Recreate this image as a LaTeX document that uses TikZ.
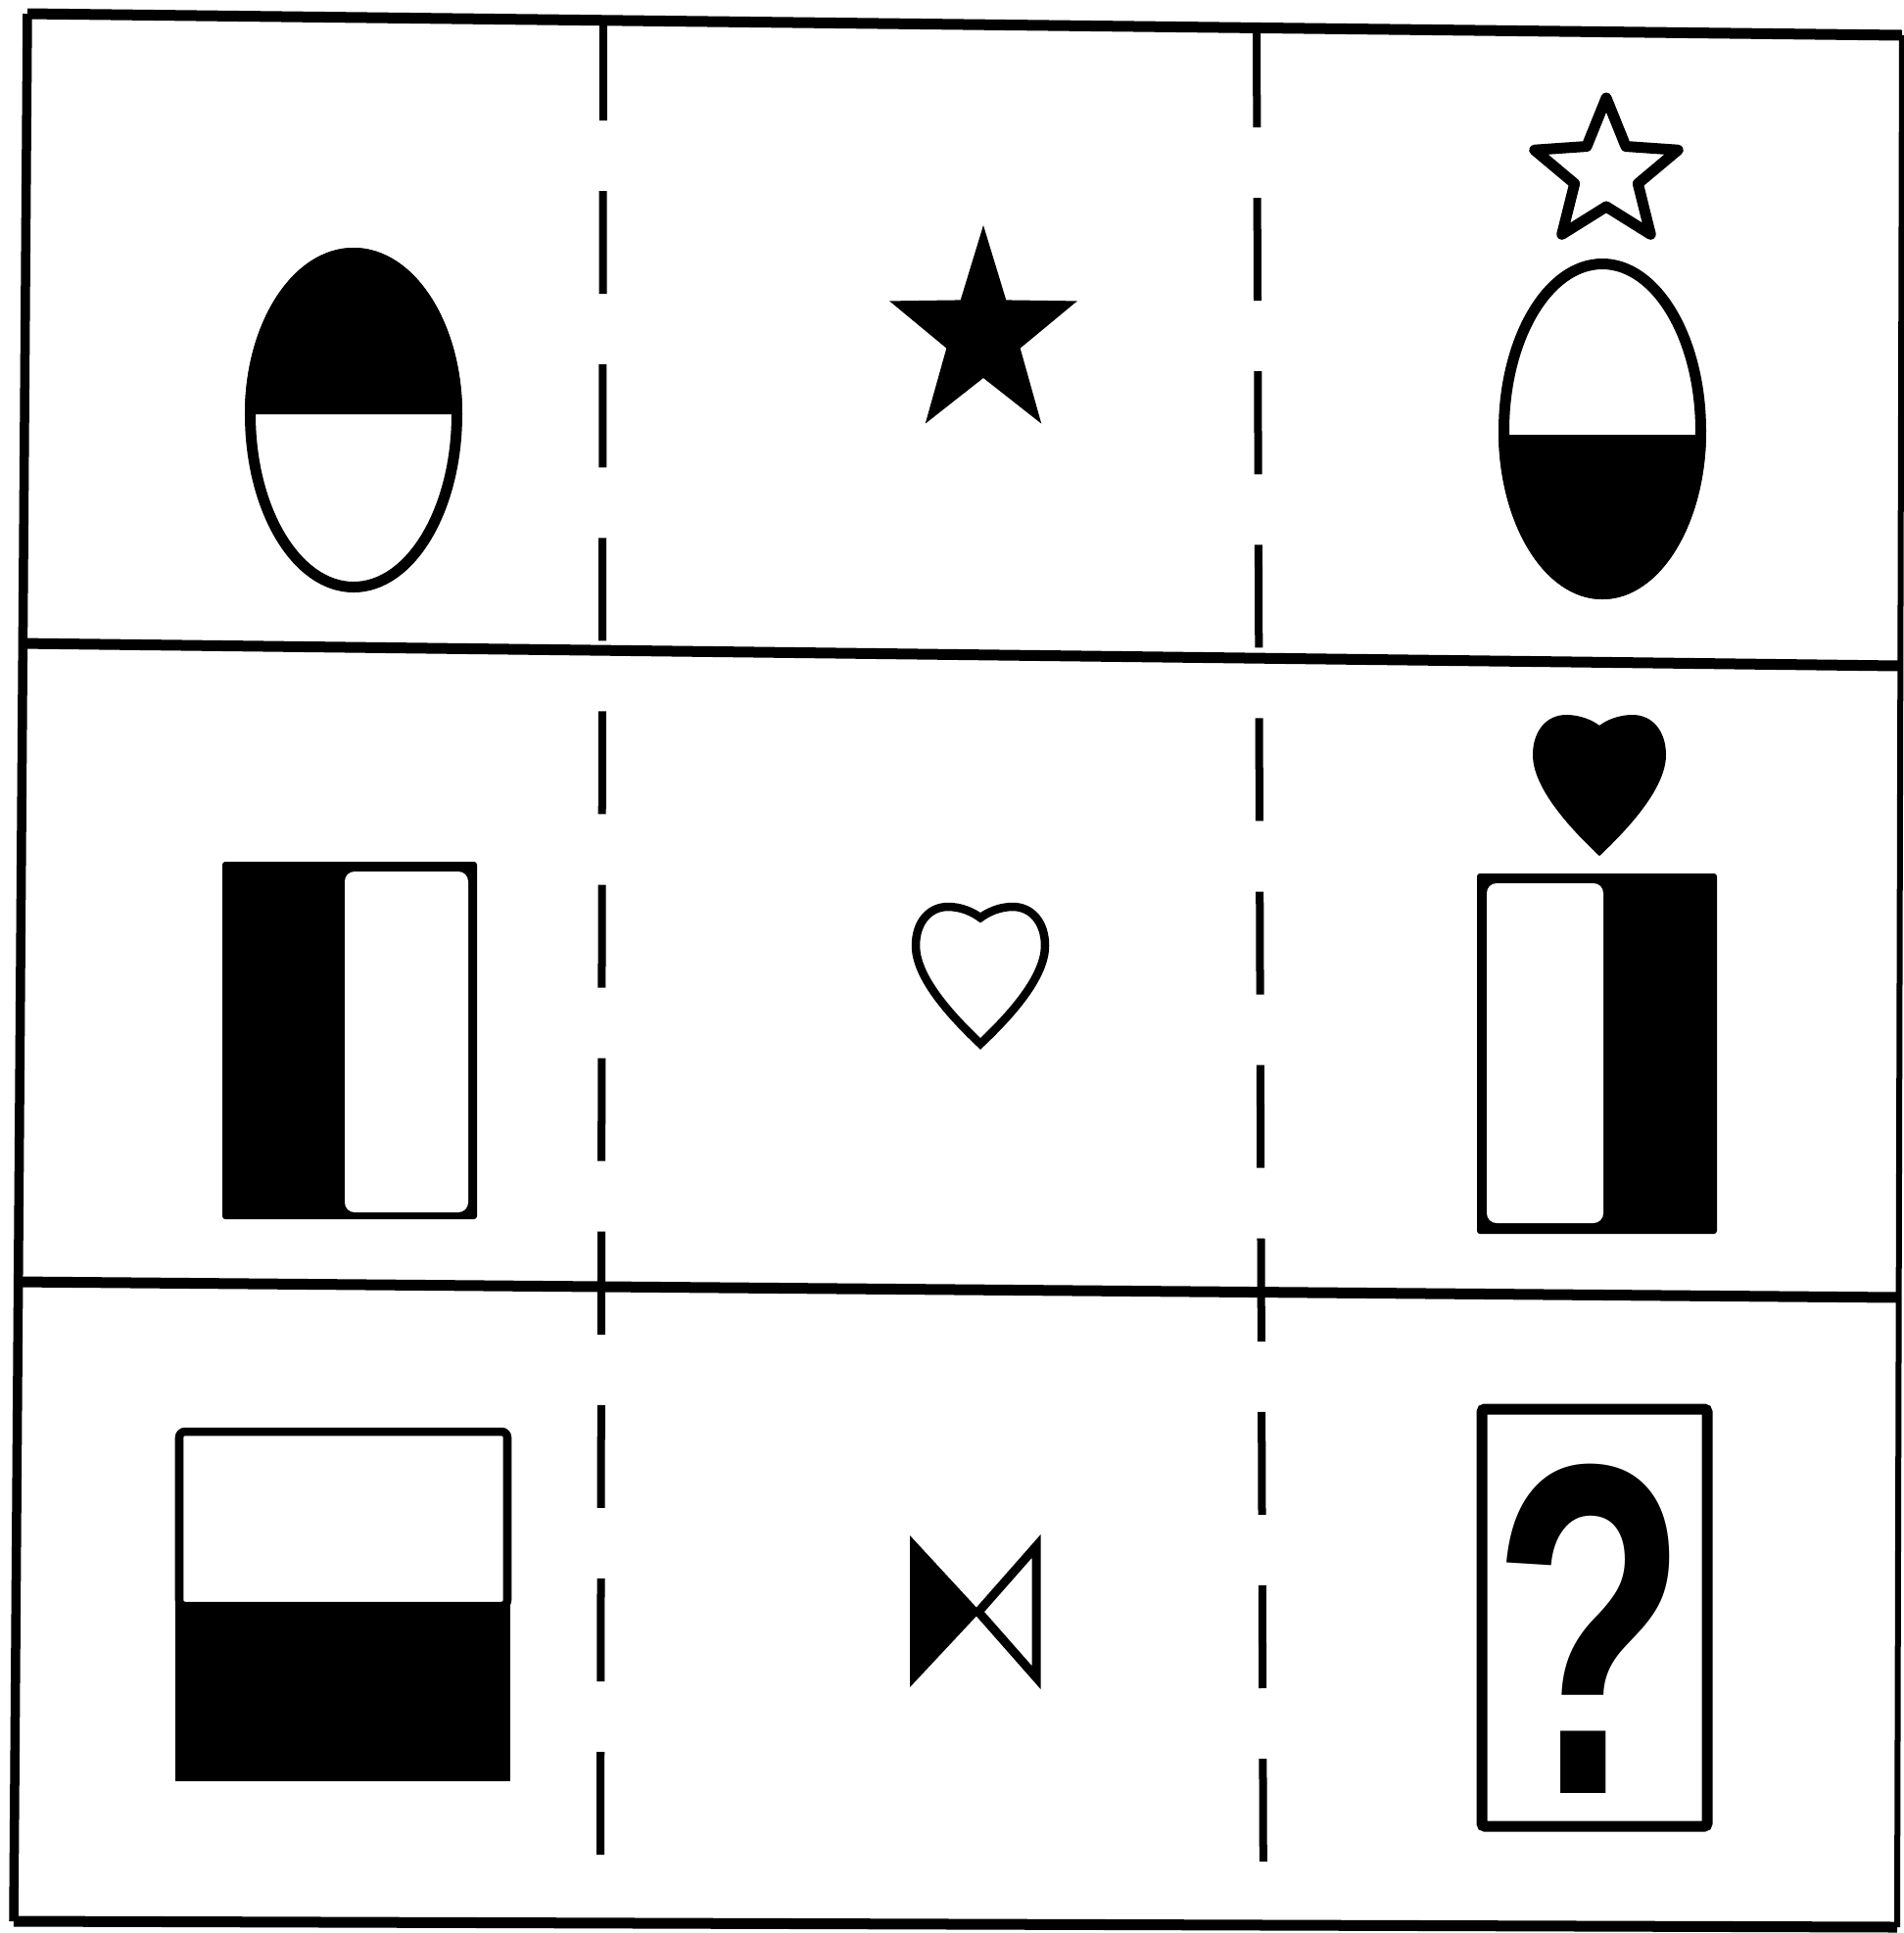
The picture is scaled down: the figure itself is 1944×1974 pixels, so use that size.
\documentclass[tikz,border=0pt]{standalone}
\usepackage{fontspec}
\newfontfamily\qfont{Liberation Sans}
\begin{document}
\begin{tikzpicture}[x=0.01cm,y=-0.01cm,
  frameline/.style={line width=0.11cm},
  dashline/.style={line width=0.08cm, dash pattern=on 1.05cm off 0.72cm},
  outl/.style={line width=0.11cm},
  thinoutl/.style={line width=0.085cm}]
\useasboundingbox (0,0) rectangle (1944,1974);

% ---- frame ----
\draw[frameline] (28,14) -- (1942,36);
\draw[line width=0.095cm] (28,14) -- (14,1962);
\draw[line width=0.11cm] (14,1962) -- (1937,1968);
\draw[line width=0.06cm] (1942,36) -- (1937,1968);
\draw[frameline] (20,657) -- (1940,680);
\draw[frameline] (16,1309) -- (1939,1325);
\draw[dashline] (616,18) -- (613,1950);
\draw[dashline,dash phase=0.05cm] (1283,30) -- (1290,1955);

% ---- row 1 ----
% egg 1 (top filled)
\fill (250,423) arc[start angle=180,end angle=360,x radius=111,y radius=170] -- cycle;
\draw[outl] (255.5,423) arc[start angle=180,end angle=360,x radius=105.5,y radius=164.5]
  arc[start angle=0,end angle=180,x radius=105.5,y radius=176.5] -- cycle;
% filled star
\fill[shift={(1004,342)},xscale=0.9] (270:112) -- (306:44) -- (342:112) -- (18:44) -- (54:112)
  -- (90:44) -- (126:112) -- (162:44) -- (198:112) -- (234:44) -- cycle;
% outline star
\draw[outl,line join=round,shift={(1640,177)}] (270:77) -- (306:34) -- (342:77) -- (18:34) -- (54:77)
  -- (90:34) -- (126:77) -- (162:34) -- (198:77) -- (234:34) -- cycle;
% egg 2 (bottom filled)
\begin{scope}
  \clip (1500,444) rectangle (1780,640);
  \fill (1530,440) arc[start angle=180,end angle=360,x radius=106,y radius=176]
    arc[start angle=0,end angle=180,x radius=106,y radius=172] -- cycle;
\end{scope}
\draw[outl] (1535.5,440) arc[start angle=180,end angle=360,x radius=100.5,y radius=170.5]
  arc[start angle=0,end angle=180,x radius=100.5,y radius=166.5] -- cycle;

% ---- row 2 ----
\fill[rounded corners=0.03cm] (227,880) rectangle (487,1245);
\fill[white, rounded corners=0.1cm] (352,890) rectangle (478,1238);
% outline heart
\begin{scope}[shift={(1001,926)}, scale=66]
  \draw[thinoutl] (0,0.17) .. controls (-0.12,0.08) and (-0.3,0) .. (-0.5,0)
    .. controls (-0.8,0) and (-1,0.25) .. (-1,0.6)
    .. controls (-1,1.05) and (-0.55,1.6) .. (0,2.12)
    .. controls (0.55,1.6) and (1,1.05) .. (1,0.6)
    .. controls (1,0.25) and (0.8,0) .. (0.5,0)
    .. controls (0.3,0) and (0.12,0.08) .. (0,0.17) -- cycle;
\end{scope}
% filled heart
\begin{scope}[shift={(1633,730)}, scale=68]
  \fill (0,0.16) .. controls (-0.12,0.07) and (-0.3,0) .. (-0.5,0)
    .. controls (-0.8,0) and (-1,0.25) .. (-1,0.6)
    .. controls (-1,1.05) and (-0.55,1.6) .. (0,2.12)
    .. controls (0.55,1.6) and (1,1.05) .. (1,0.6)
    .. controls (1,0.25) and (0.8,0) .. (0.5,0)
    .. controls (0.3,0) and (0.12,0.07) .. (0,0.16) -- cycle;
\end{scope}
\fill[rounded corners=0.03cm] (1508,892) rectangle (1753,1260);
\fill[white, rounded corners=0.1cm] (1518,902) rectangle (1637,1249);

% ---- row 3 ----
\fill (179,1637) rectangle (521,1819);
\draw[thinoutl, rounded corners=0.06cm] (183,1462) rectangle (518,1640);
% bow tie
\fill (929,1568) -- (929,1723) -- (1001,1646) -- cycle;
\draw[line width=0.09cm, line join=miter] (1058,1579) -- (1058,1713) -- (999,1646) -- cycle;
% question box
\draw[outl, rounded corners=0.03cm] (1513,1439) rectangle (1743,1865);
\node[font=\qfont\bfseries\fontsize{137pt}{140pt}\selectfont, inner sep=0pt, anchor=base, xscale=0.68] (q) at (1624,1831) {?};
\end{tikzpicture}
\end{document}
